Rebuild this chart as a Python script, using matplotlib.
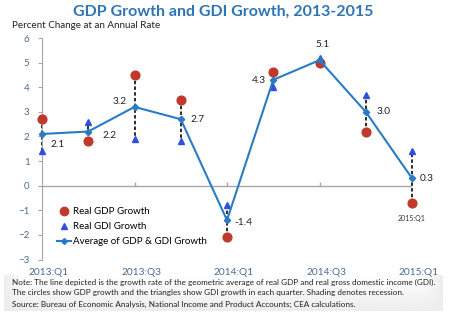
import numpy as np
import matplotlib
matplotlib.use("Agg")
import matplotlib.pyplot as plt
import matplotlib.transforms as mtransforms
from matplotlib.lines import Line2D

plt.rcParams['font.family'] = ['Lato', 'DejaVu Sans']

quarters = ["2013:Q1", "2013:Q2", "2013:Q3", "2013:Q4", "2014:Q1",
            "2014:Q2", "2014:Q3", "2014:Q4", "2015:Q1"]
tick_labels = ["2013:Q1", "2013:Q3", "2014:Q1", "2014:Q3", "2015:Q1"]
gdp_growth = [2.7, 1.8, 4.5, 3.5, -2.1, 4.6, 5.0, 2.2, -0.7]
gdi_growth = [1.4, 2.6, 1.9, 1.8, -0.8, 4.0, 5.2, 3.7, 1.4]
avg_growth = [2.1, 2.2, 3.2, 2.7, -1.4, 4.3, 5.1, 3.0, 0.3]

blue_line = "#2A7BC4"
red = "#C0392B"
tri_blue = "#2F4FE0"
axis_text = "#4A6C93"

x = np.arange(len(quarters))

fig = plt.figure(figsize=(4.53, 3.27), dpi=100)

# shaded note panel at the bottom
bg = fig.add_axes([0.008, 1 - 311 / 327, 0.968, 36 / 327])
h = np.linspace(0, 1, 200)
edge = np.minimum(1, np.minimum(h, 1 - h) * 25)
img = 0.93 + 0.07 * (np.linspace(1, 0, 40).reshape(-1, 1) * edge.reshape(1, -1))
bg.imshow(img, cmap="gray", vmin=0, vmax=1, aspect="auto", extent=[0, 1, 0, 1])
bg.set_axis_off()

ax = fig.add_axes([42 / 453, 1 - 259.5 / 327, 370 / 453, 221.5 / 327])
ax.set_xlim(0, len(quarters) - 1)
ax.set_ylim(-3, 6)
ax.patch.set_alpha(0)

ax.axhline(0, color="#A6A6A6", lw=1.0, zorder=1)
ax.plot([2, 4, 6], [0, 0, 0], ls="none", marker=2, ms=3, color="#A6A6A6",
        mew=1.0, zorder=1)

# dashed connectors between GDP and GDI estimates
for xi, a, b in zip(x, gdp_growth, gdi_growth):
    ax.plot([xi, xi], [a, b], color="#111111", ls=(0, (2, 1.3)), lw=1.25,
            zorder=2, clip_on=False)

ax.plot(x, gdp_growth, ls="none", marker="o", ms=6.3, color=red,
        mec=red, zorder=3, clip_on=False)
ax.plot(x, gdi_growth, ls="none", marker="^", ms=4.3, color=tri_blue,
        mec=tri_blue, zorder=3, clip_on=False)
ax.plot(x, avg_growth, color=blue_line, lw=1.5, marker="D", ms=3.2,
        mec=blue_line, zorder=4, clip_on=False)

# value labels next to the average line (pixel offsets, y up)
offsets = [(16, -11), (21, -4), (-14.5, 5), (17, 0), (16, -2),
           (-14.5, -1), (3.5, 16), (17.5, 0), (15, 0)]
for xi, v, (dx, dy) in zip(x, avg_growth, offsets):
    ax.annotate(f"{v:.1f}", (xi, v), xytext=(dx, dy),
                textcoords="offset pixels", fontsize=7.3, color="#222222",
                ha="center", va="center", zorder=5)

ax.annotate("2015:Q1", (x[-1], gdp_growth[-1]), xytext=(0, -16),
            textcoords="offset pixels", fontsize=5, color="#333333",
            ha="center", va="center")

ax.set_xticks(x[::2])
ax.set_xticklabels(tick_labels, fontsize=7.3, color=axis_text)
ax.tick_params(axis="x", length=0, pad=6)
shift = mtransforms.ScaledTranslation(7 / 100, 0, fig.dpi_scale_trans)
for lbl in ax.get_xticklabels():
    lbl.set_transform(lbl.get_transform() + shift)
ax.set_yticks(np.arange(-3, 7))
ax.tick_params(axis="y", length=3, color="#A6A6A6", labelsize=7,
               labelcolor=axis_text, pad=6)
for side in ["top", "right", "bottom"]:
    ax.spines[side].set_visible(False)
ax.spines["left"].set_color("#A6A6A6")

handles = [
    Line2D([], [], ls="none", marker="o", ms=6, color=red),
    Line2D([], [], ls="none", marker="^", ms=4.3, color=tri_blue),
    Line2D([], [], color=blue_line, lw=1.5, marker="D", ms=3),
]
ax.legend(handles, ["Real GDP Growth", "Real GDI Growth",
                    "Average of GDP & GDI Growth"],
          loc="upper left", bbox_to_anchor=(0.03, 0.255), frameon=False,
          fontsize=7.0, handlelength=1.4, handletextpad=0.2,
          labelspacing=0.62, borderaxespad=0)

fig.text(0.492, 1 - 12 / 327, "GDP Growth and GDI Growth, 2013-2015",
         ha="center", va="center", fontsize=11.5, fontweight="bold",
         color="#2E75B6")
fig.text(12 / 453, 1 - 26 / 327, "Percent Change at an Annual Rate",
         ha="left", va="center", fontsize=7.1, color="#222222")

notes = [
    "Note: The line depicted is the growth rate of the geometric average of real GDP and real gross domestic income (GDI).",
    "The circles show GDP growth and the triangles show GDI growth in each quarter. Shading denotes recession.",
    "Source: Bureau of Economic Analysis, National Income and Product Accounts; CEA calculations.",
]
for i, line in enumerate(notes):
    fig.text(12 / 453, 1 - (282 + i * 11) / 327, line, ha="left",
             va="center", fontsize=5.85, color="#222222")

fig.savefig("out.png", dpi=100)
